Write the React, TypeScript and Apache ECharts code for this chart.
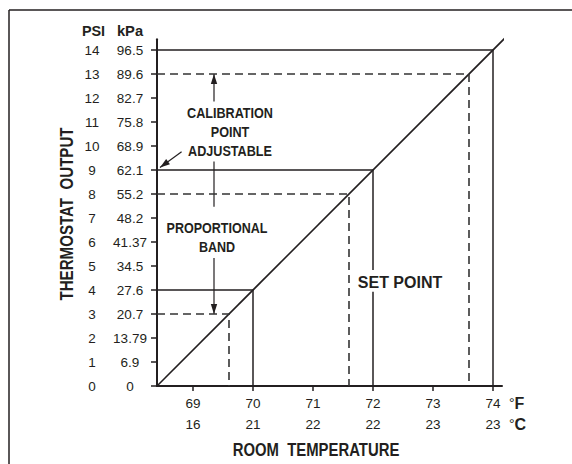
import React, { useEffect, useRef } from "react";
import * as echarts from "echarts";

// ---- data ----
const tempF = [69, 70, 71, 72, 73, 74];
const tempC = ["16", "21", "22", "22", "23", "23"];
const psi = [0, 1, 2, 3, 4, 5, 6, 7, 8, 9, 10, 11, 12, 13, 14];
const kPa = ["0", "6.9", "13.79", "20.7", "27.6", "34.5", "41.37", "48.2", "55.2", "62.1", "68.9", "75.8", "82.7", "89.6", "96.5"];
// response line: output vs room temperature
const responseLine = [[68.4, 0], [74.2, 14.5]];
// solid set points (temp F, psi)
const solidTemps = [70, 72, 74];
const solidPsi = [4, 9, 14];
// dashed set points (temp F, psi)
const dashedTemps = [69.6, 71.6, 73.6];
const dashedPsi = [3, 8, 13];
// axis ranges
const xMin = 68.4;
const xMax = 74.15;
const yMax = 14.45;
// set-point label gap on the 72°F line (psi)
const setGap = [3.93, 4.83];
// arrow shafts: [x0, y0, x1, y1, hasHead]
const arrows = [
  [69.35, 11.85, 69.35, 13, 1],
  [69.35, 9.35, 69.35, 7.47, 0],
  [69.35, 5.33, 69.35, 3, 1],
  [68.81, 9.76, 68.45, 9.1, 1],
];

const INK = "#231f20";
const SANS = '"Liberation Sans", Arial, Helvetica, sans-serif';

export default function App() {
  const ref = useRef<HTMLDivElement>(null);
  useEffect(() => {
    if (!ref.current) return;
    const chart = echarts.init(ref.current, null, { renderer: "svg" });

    const series: any[] = [];
    series.push({
      type: "line",
      data: responseLine,
      clip: false,
      symbol: "none",
      lineStyle: { color: INK, width: 1.6 },
    });
    solidTemps.forEach((t, i) => {
      const p = solidPsi[i];
      const data =
        t === 72
          ? [[xMin, p], [t, p], [t, setGap[1]], null, [t, setGap[0]], [t, 0]]
          : [[xMin, p], [t, p], [t, 0]];
      series.push({
        type: "line",
        data,
        connectNulls: false,
        symbol: "none",
        lineStyle: { color: INK, width: 1.5 },
      });
    });
    dashedTemps.forEach((t, i) => {
      const p = dashedPsi[i];
      series.push({
        type: "line",
        data: [[xMin, p], [t, p], [t, 0]],
        symbol: "none",
        lineStyle: { color: "#333", width: 1.6, type: [8, 5] },
      });
    });
    series.push({
      type: "custom",
      data: arrows,
      encode: { x: [0, 2], y: [1, 3] },
      silent: true,
      renderItem: (params: any, api: any) => {
        const p0 = api.coord([api.value(0), api.value(1)]);
        const p1 = api.coord([api.value(2), api.value(3)]);
        const children: any[] = [
          {
            type: "line",
            shape: { x1: p0[0], y1: p0[1], x2: p1[0], y2: p1[1] },
            style: { stroke: INK, lineWidth: 1.2 },
          },
        ];
        if (api.value(4)) {
          const dx = p1[0] - p0[0];
          const dy = p1[1] - p0[1];
          const len = Math.sqrt(dx * dx + dy * dy);
          const ux = dx / len;
          const uy = dy / len;
          const L = 10;
          const W = 3.2;
          const bx = p1[0] - ux * L;
          const by = p1[1] - uy * L;
          children.push({
            type: "polygon",
            shape: {
              points: [
                [p1[0], p1[1]],
                [bx - uy * W, by + ux * W],
                [bx + uy * W, by - ux * W],
              ],
            },
            style: { fill: INK },
          });
        }
        return { type: "group", children };
      },
    });

    const text = (t: string, x: number, y: number, size: number, sx: number, extra: any = {}) => ({
      type: "text",
      x,
      y,
      scaleX: sx,
      style: {
        text: t,
        fill: INK,
        font: `bold ${size}px ${SANS}`,
        align: "center",
        verticalAlign: "middle",
        ...extra,
      },
    });

    chart.setOption({
      animation: false,
      grid: { left: 157, top: 39.2, width: (xMax - xMin) * 60, height: yMax * 24, containLabel: false },
      xAxis: {
        type: "value",
        min: xMin,
        max: xMax,
        splitLine: { show: false },
        axisLine: { lineStyle: { color: INK, width: 2 } },
        axisTick: { customValues: tempF, length: 5, lineStyle: { color: INK, width: 1.5 } },
        axisLabel: {
          customValues: tempF,
          margin: 7,
          color: INK,
          fontFamily: SANS,
          fontSize: 13.5,
          lineHeight: 21,
          formatter: (v: number) => {
            const i = tempF.indexOf(Math.round(v));
            return `${Math.round(v)}\n${tempC[i]}`;
          },
        },
      },
      yAxis: {
        type: "value",
        min: 0,
        max: yMax,
        splitLine: { show: false },
        axisLine: { lineStyle: { color: INK, width: 2 } },
        axisTick: { customValues: psi, length: 6, lineStyle: { color: INK, width: 1.5 } },
        axisLabel: {
          customValues: psi,
          margin: 7,
          color: INK,
          fontFamily: SANS,
          fontSize: 13.5,
          formatter: (v: number) => {
            const i = psi.indexOf(Math.round(v));
            return `{a|${psi[i]}}{b|${kPa[i]}}`;
          },
          rich: {
            a: { width: 36, align: "center", fontFamily: SANS, fontSize: 13.5, color: INK },
            b: { width: 40, align: "center", fontFamily: SANS, fontSize: 13.5, color: INK },
          },
        },
      },
      series,
      graphic: [
        { type: "line", shape: { x1: 9, y1: 10, x2: 572, y2: 10 }, style: { stroke: INK, lineWidth: 1.5 } },
        { type: "line", shape: { x1: 9, y1: 10, x2: 9, y2: 464 }, style: { stroke: INK, lineWidth: 1.5 } },
        text("PSI", 93.5, 30, 15.5, 0.93),
        text("kPa", 130, 30, 15.5, 0.95),
        {
          type: "text",
          x: 67,
          y: 214,
          rotation: Math.PI / 2,
          scaleX: 0.84,
          style: {
            text: "THERMOSTAT  OUTPUT",
            fill: INK,
            font: `bold 18px ${SANS}`,
            align: "center",
            verticalAlign: "middle",
          },
        },
        text("CALIBRATION\nPOINT\nADJUSTABLE", 230, 132, 14.5, 0.87, { lineHeight: 19 }),
        text("PROPORTIONAL\nBAND", 217, 237.5, 14.5, 0.865, { lineHeight: 19 }),
        text("SET POINT", 400, 282, 16, 1.0),
        {
          type: "text",
          x: 509,
          y: 403,
          style: {
            text: "{d|°}{u|F}",
            verticalAlign: "middle",
            align: "left",
            rich: { d: { font: `14px ${SANS}`, fill: INK }, u: { font: `bold 16px ${SANS}`, fill: INK } },
          },
        },
        {
          type: "text",
          x: 509,
          y: 424,
          style: {
            text: "{d|°}{u|C}",
            verticalAlign: "middle",
            align: "left",
            rich: { d: { font: `14px ${SANS}`, fill: INK }, u: { font: `bold 16px ${SANS}`, fill: INK } },
          },
        },
        text("ROOM  TEMPERATURE", 316, 449.5, 17.5, 0.85),
      ],
    });
    return () => chart.dispose();
  }, []);
  return <div ref={ref} style={{ position: "fixed", left: 0, top: 0, width: 572, height: 464, background: "#fff" }} />;
}
